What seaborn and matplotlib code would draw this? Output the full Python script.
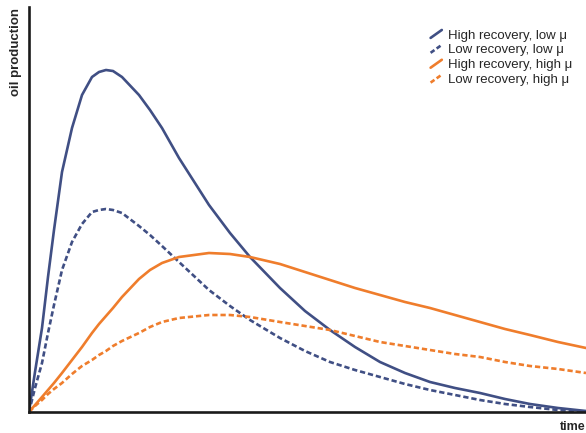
import numpy as np
import pandas as pd
import matplotlib
matplotlib.use("Agg")
import matplotlib.pyplot as plt
import seaborn as sns
from matplotlib.legend_handler import HandlerBase
from matplotlib.lines import Line2D

# --- data (arbitrary units) ---
time = [0, 6, 13, 19, 25, 33, 43, 53, 63, 70, 77, 84, 93, 110, 121, 133, 150, 180, 201,
        221, 251, 276, 301, 326, 351, 376, 401, 426, 451, 476, 501, 529, 557]

high_rec_low_mu = [0, 40, 84, 135, 182, 240, 284, 317, 335, 340, 342, 341, 335, 317, 302,
                   284, 254, 207, 179, 155, 124, 101, 82, 65, 50, 39, 30, 24, 19, 13, 8, 4, 1]
low_rec_low_mu = [0, 24, 49, 79, 107, 142, 170, 188, 200, 202, 203, 202, 199, 186, 177,
                  166, 150, 122, 106, 92, 74, 61, 50, 42, 35, 28, 22, 17, 12, 8, 5, 2, 0]
high_rec_high_mu = [0, 7, 15, 22, 29, 39, 52, 65, 79, 88, 96, 104, 115, 133, 142,
                    149, 155, 159, 158, 155, 148, 140, 132, 124, 117, 110, 104, 97, 90, 83, 77, 70, 64]
low_rec_high_mu = [0, 6, 12, 18, 23, 29, 38, 46, 52, 57, 61, 66, 71, 79, 85,
                   90, 94, 97, 97, 95, 90, 86, 82, 76, 70, 66, 62, 58, 55, 50, 46, 43, 39]

labels = ["High recovery, low \u03bc", "Low recovery, low \u03bc",
          "High recovery, high \u03bc", "Low recovery, high \u03bc"]
series = [high_rec_low_mu, low_rec_low_mu, high_rec_high_mu, low_rec_high_mu]

blue = "#404f84"
orange = "#ef7d2c"
colors = [blue, blue, orange, orange]
dashed = [False, True, False, True]

sns.set_style("white")
plt.rcParams['font.family'] = ['Liberation Sans', 'DejaVu Sans']

fig = plt.figure(figsize=(5.86, 4.33), dpi=100)
ax = fig.add_axes([29 / 586, 21 / 433, 557 / 586, 405 / 433])

for lab, vals, col, dsh in zip(labels, series, colors, dashed):
    df = pd.DataFrame({"time": time, "production": vals})
    sns.lineplot(data=df, x="time", y="production", color=col, lw=1.9,
                 label=lab, ax=ax)
    ax.lines[-1].set_solid_joinstyle("round")
    ax.lines[-1].set_dash_joinstyle("round")
    if dsh:
        ax.lines[-1].set_dashes((2.0, 1.1))

ax.set_xlim(0, 557)
ax.set_ylim(0, 405)
ax.set_xticks([])
ax.set_yticks([])
ax.set_xlabel("")
ax.set_ylabel("")
for side in ["right", "top"]:
    ax.spines[side].set_visible(False)
for side in ["left", "bottom"]:
    ax.spines[side].set_color("#1a1a1a")
    ax.spines[side].set_linewidth(1.9)


# slanted legend handles like in the original
class SlantHandler(HandlerBase):
    def create_artists(self, legend, orig_handle, xdescent, ydescent, width,
                       height, fontsize, trans):
        ln = Line2D([-xdescent, -xdescent + width],
                    [-ydescent, -ydescent + height],
                    color=orig_handle.get_color(),
                    linewidth=orig_handle.get_linewidth())
        if orig_handle.get_linestyle() not in ("-", "solid"):
            ln.set_dashes((1.8, 1.0))
        ln.set_transform(trans)
        return [ln]


handles = ax.lines[:4]
ax.legend(handles=handles, labels=labels, frameon=False, fontsize=9.5,
          handlelength=0.85, handleheight=0.55, handletextpad=0.45,
          labelspacing=0.22, borderpad=0, loc="upper left",
          bbox_to_anchor=(424 / 586, 1 - 23 / 433), bbox_transform=fig.transFigure,
          handler_map={Line2D: SlantHandler()})

fig.text(16 / 586, 1 - 8 / 433, "oil production", rotation=90, ha="center",
         va="top", fontsize=9.5, fontweight="bold")
fig.text(585 / 586, 1 - 427 / 433, "time", ha="right", va="center",
         fontsize=9, fontweight="bold")

fig.savefig("out.png", dpi=100)
